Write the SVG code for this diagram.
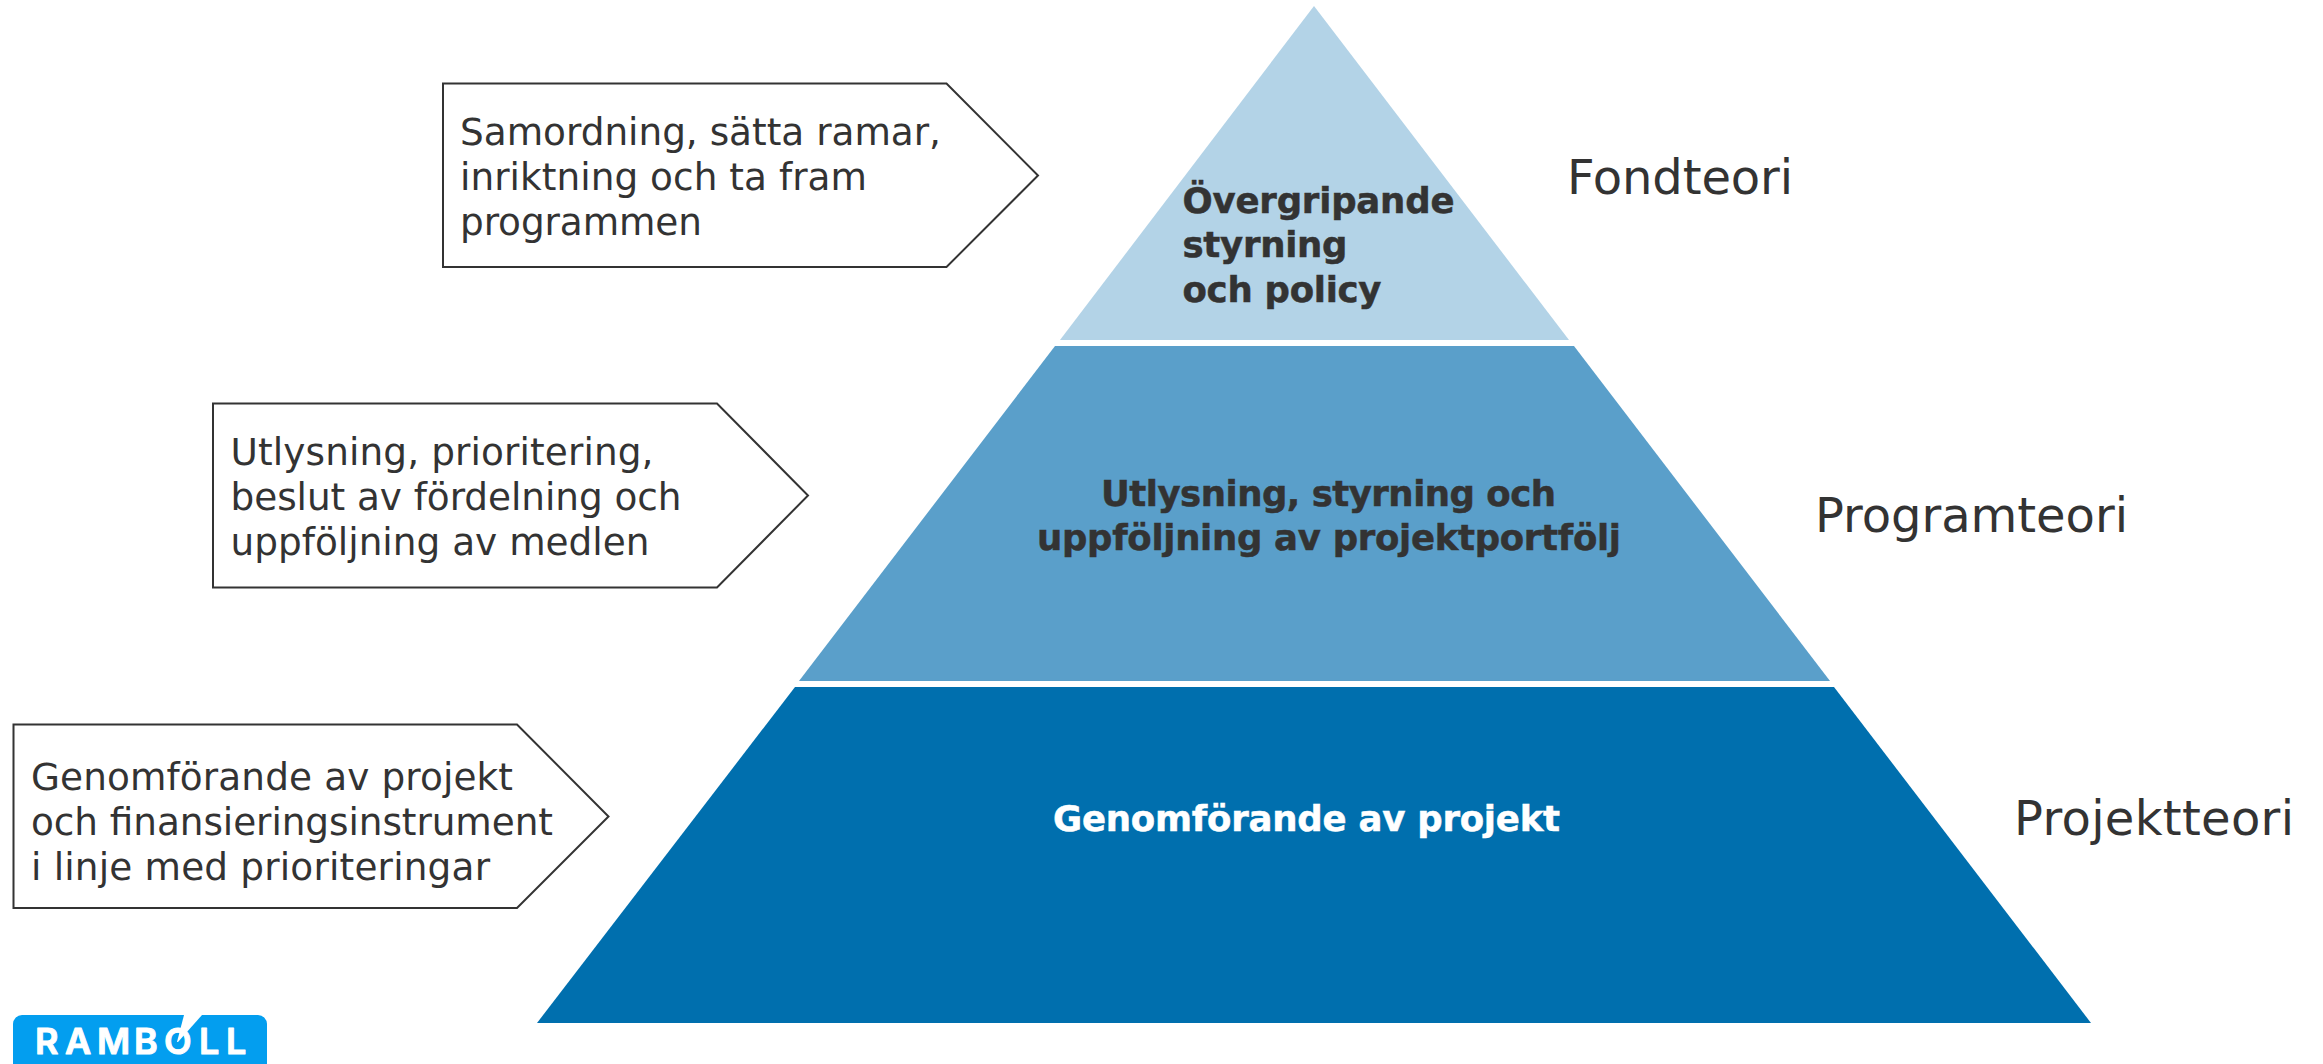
<svg xmlns="http://www.w3.org/2000/svg" width="2323" height="1064" viewBox="0 0 2323 1064">
<style>
text{font-family:"DejaVu Sans",Verdana,sans-serif;fill:#333333}
.c{font-size:37.4px}
.l{font-size:48px}
.b{font-size:35.5px;font-weight:700;stroke:#333333;stroke-width:.5px}
.w{fill:#fff;stroke:#fff}
.p{fill:#fff;stroke:#333;stroke-width:2}
</style>
<rect width="2323" height="1064" fill="#fff"/>
<g id="level-top"><polygon points="1314,6 1569,340 1060,340" fill="#b3d3e7"/>
<text class="b" x="1182.500" y="213" textLength="272">Övergripande</text><text class="b" x="1182.500" y="257" textLength="165">styrning</text><text class="b" x="1182.500" y="302" textLength="199">och policy</text></g>
<g id="level-mid"><polygon points="1055,346 1574,346 1830,681 799,681" fill="#5a9fca"/>
<text class="b" x="1101" y="506" textLength="455">Utlysning, styrning och</text><text class="b" x="1037" y="550" textLength="584">uppföljning av projektportfölj</text></g>
<g id="level-bottom"><polygon points="795,687 1834,687 2091,1023 537,1023" fill="#006fae"/>
<text class="b w" x="1053" y="831" textLength="507">Genomförande av projekt</text></g>
<g id="callout-1"><polygon class="p" points="443,83.500 946.500,83.500 1038,175.500 946.500,267 443,267"/>
<text class="c" x="460" y="145" textLength="481">Samordning, sätta ramar,</text><text class="c" x="460" y="190" textLength="407">inriktning och ta fram</text><text class="c" x="460" y="235" textLength="242">programmen</text></g>
<g id="callout-2"><polygon class="p" points="213,403.500 717,403.500 808,495.500 717,587.500 213,587.500"/>
<text class="c" x="230.500" y="465" textLength="423">Utlysning, prioritering,</text><text class="c" x="230.500" y="510" textLength="451">beslut av fördelning och</text><text class="c" x="230.500" y="555" textLength="419">uppföljning av medlen</text></g>
<g id="callout-3"><polygon class="p" points="13.500,724.500 517,724.500 608.500,816.500 517,908 13.500,908"/>
<text class="c" x="31" y="790" textLength="482">Genomförande av projekt</text><text class="c" x="31" y="835" textLength="522">och finansieringsinstrument</text><text class="c" x="31" y="880" textLength="459">i linje med prioriteringar</text></g>
<g id="label-fond"><text class="l" x="1567" y="194" textLength="226">Fondteori</text></g>
<g id="label-program"><text class="l" x="1815" y="532" textLength="313">Programteori</text></g>
<g id="label-projekt"><text class="l" x="2014" y="835" textLength="280">Projektteori</text></g>
<g id="logo"><rect x="13" y="1015" width="254" height="70" rx="9" fill="#039eef"/>
<text x="35 65 97 134 164 199 226" y="1054" style="font-family:'Inter','Liberation Sans',sans-serif;font-size:36px;font-weight:600;fill:#fff;stroke:#fff;stroke-width:1px;stroke-linejoin:round">RAMBOLL</text>
<polygon points="184,1015 202,1015 178,1042 177,1042" fill="#fff"/></g>
</svg>
